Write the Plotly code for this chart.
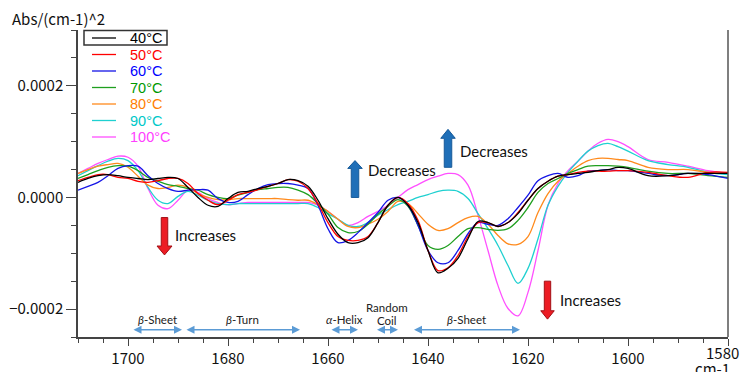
import plotly.graph_objects as go

# ---------------- data ----------------
# wavenumber axis, cm-1
wavenumber = [1710, 1708, 1706, 1704, 1702, 1700, 1698, 1696, 1694, 1692,
              1690, 1688, 1686, 1684, 1682, 1680, 1678, 1676, 1674, 1672,
              1670, 1668, 1666, 1664, 1662, 1660, 1658, 1656, 1654, 1652,
              1650, 1648, 1646, 1644, 1642, 1640, 1638, 1636, 1634, 1632,
              1630, 1628, 1626, 1624, 1622, 1620, 1618, 1616, 1614, 1612,
              1610, 1608, 1606, 1604, 1602, 1600, 1596, 1592, 1588, 1584, 1580]

# second-derivative absorbance, in units of 1e-6 Abs/(cm-1)^2
abs_40c = [27, 34, 39, 41, 39, 36, 34, 32, 34, 36,
           34, 18, 0, -14, -16, -2, 9, 11, 16, 20,
           25, 32, 30, 20, -5, -38, -66, -81, -81, -72,
           -45, -14, 0, -14, -45, -95, -135, -127, -109, -74,
           -43, -45, -52, -45, -29, -5, 16, 29, 38, 41,
           43, 45, 48, 50, 54, 52, 39, 39, 43, 43, 43]
abs_50c = [30, 36, 41, 41, 36, 34, 29, 27, 30, 34,
           34, 25, 7, -5, -13, -5, 5, 9, 14, 20,
           25, 32, 29, 16, -11, -45, -70, -77, -77, -70,
           -45, -14, 0, -11, -41, -95, -131, -126, -104, -70,
           -45, -45, -52, -45, -27, -5, 16, 29, 38, 41,
           45, 47, 47, 47, 48, 48, 45, 39, 36, 45, 45]
abs_60c = [13, 20, 27, 39, 52, 57, 56, 39, 25, 16,
           11, 13, 14, 13, -2, -9, -7, 5, 16, 23,
           25, 25, 22, 16, -14, -56, -81, -77, -63, -45,
           -27, -5, 0, -14, -50, -95, -117, -117, -95, -65,
           -45, -48, -50, -38, -18, 4, 30, 39, 43, 36,
           39, 47, 48, 50, 48, 48, 43, 39, 43, 41, 34]
abs_70c = [34, 41, 48, 54, 57, 56, 48, 36, 29, 23,
           20, 16, 13, 5, 0, -2, 4, 9, 14, 16,
           18, 18, 13, 5, -11, -30, -54, -63, -61, -48,
           -30, -16, -4, -16, -50, -86, -93, -86, -70, -56,
           -54, -57, -59, -56, -41, -18, 9, 25, 34, 43,
           50, 56, 57, 57, 56, 54, 47, 43, 43, 39, 36]
abs_80c = [43, 50, 56, 59, 61, 54, 38, 22, 16, 18,
           22, 18, 7, 0, -4, -4, -2, -2, -2, -2,
           -2, -4, -5, -5, -13, -25, -39, -52, -54, -48,
           -39, -25, -7, -11, -29, -48, -59, -56, -45, -36,
           -34, -48, -68, -83, -84, -70, -27, 7, 29, 43,
           56, 66, 70, 70, 68, 66, 54, 50, 50, 45, 43]
abs_90c = [39, 48, 57, 65, 70, 66, 48, 18, -5, -11,
           2, 11, 4, -5, -11, -13, -11, -11, -11, -11,
           -11, -11, -11, -11, -18, -29, -39, -50, -52, -45,
           -32, -22, -13, -7, 0, 5, 11, 13, 11, -2,
           -29, -56, -86, -122, -154, -127, -74, -14, 20, 45,
           65, 83, 93, 97, 91, 83, 66, 59, 54, 45, 41]
abs_100c = [43, 52, 61, 68, 74, 72, 56, 16, -14, -20,
            -5, 13, 9, -2, -9, -13, -11, -9, -9, -9,
            -9, -9, -9, -9, -14, -25, -39, -50, -45, -34,
            -25, -14, 0, 14, 23, 32, 38, 43, 41, 22,
            -32, -95, -158, -199, -212, -170, -95, -14, 25, 48,
            65, 83, 97, 104, 100, 91, 68, 63, 56, 48, 43]

series_labels = ["40°C", "50°C", "60°C", "70°C", "80°C", "90°C", "100°C"]
series_values = [abs_40c, abs_50c, abs_60c, abs_70c, abs_80c, abs_90c, abs_100c]

# secondary-structure bands (label, from, to) in cm-1
band_labels = ["<i>β</i>-Sheet", "<i>β</i>-Turn", "<i>α</i>-Helix", "Random<br>Coil", "<i>β</i>-Sheet"]
band_from = [1699.2, 1688.6, 1659.6, 1650.5, 1643.1]
band_to = [1689.2, 1665.6, 1654.0, 1646.0, 1621.6]

# ---------------- styling ----------------
colors = ["#000000", "#ff0000", "#1414e6", "#1f9f1f", "#ff8a1c", "#1fd0d0", "#ff50ff"]
text_colors = ["#000000", "#ff0000", "#0000ff", "#009900", "#ff7f00", "#00c8c8", "#ff40ff"]
W, H = 740, 372
ML, MR, MT, MB = 78, 12, 30, 35
PW, PH = W - ML - MR, H - MT - MB
TICKFONT = dict(family="Noto Sans CJK JP", size=15, color="#111111")
LEGFONT = "Liberation Sans"
LABFONT = "Lato"


def px_x(px):
    return (px - ML) / PW


def px_y(py):
    return (H - MB - py) / PH


fig = go.Figure()
for i in reversed(range(len(series_values))):
    fig.add_trace(go.Scatter(
        x=wavenumber, y=[v * 1e-6 for v in series_values[i]], mode="lines",
        name=series_labels[i], showlegend=False,
        line=dict(color=colors[i], width=1.3, shape="spline", smoothing=1.0),
    ))

shapes = []
annotations = []

# manual legend (text coloured like the lines)
for i, lab in enumerate(series_labels):
    py = 38 + 16.5 * i
    shapes.append(dict(type="line", xref="paper", yref="paper",
                       x0=px_x(92), x1=px_x(116), y0=px_y(py), y1=px_y(py),
                       line=dict(color=colors[i], width=1.3)))
    annotations.append(dict(xref="paper", yref="paper", x=px_x(128), y=px_y(py),
                            xanchor="left", yanchor="middle", showarrow=False,
                            text=lab, font=dict(family=LEGFONT, size=14.5,
                                                color=text_colors[i])))
# selection box around the first legend entry
shapes.append(dict(type="rect", xref="paper", yref="paper",
                   x0=px_x(84), x1=px_x(167), y0=px_y(45), y1=px_y(30.5),
                   line=dict(color="#333333", width=1.5)))

# right frame line
shapes.append(dict(type="line", xref="paper", yref="paper", x0=1, x1=1, y0=0, y1=1,
                   line=dict(color="#555555", width=1.5)))


def block_arrow(xc, y_tail, y_base, y_tip, shaft_hw, head_hw, fill, edge):
    pts = [(xc - shaft_hw, y_tail), (xc + shaft_hw, y_tail), (xc + shaft_hw, y_base),
           (xc + head_hw, y_base), (xc, y_tip), (xc - head_hw, y_base),
           (xc - shaft_hw, y_base)]
    path = "M " + " L ".join(f"{x:.3f},{y:.9f}" for x, y in pts) + " Z"
    return dict(type="path", xref="x", yref="y", path=path, fillcolor=fill,
                line=dict(color=edge, width=1), layer="above")


RED, RED_E = "#ec1c24", "#a30f15"
BLUE, BLUE_E = "#1f6fb8", "#175a99"
shapes.append(block_arrow(1692.7, -3.6e-5, -8.7e-5, -1.03e-4, 0.65, 1.5, RED, RED_E))
shapes.append(block_arrow(1616.1, -1.50e-4, -2.03e-4, -2.18e-4, 0.64, 1.35, RED, RED_E))
shapes.append(block_arrow(1654.6, 0.0, 5.2e-5, 6.6e-5, 0.75, 1.45, BLUE, BLUE_E))
shapes.append(block_arrow(1636.0, 5.4e-5, 1.06e-4, 1.22e-4, 0.75, 1.45, BLUE, BLUE_E))

arrow_texts = [("Increases", 1691.0, -6.8e-5), ("Increases", 1614.0, -1.83e-4),
               ("Decreases", 1652.4, 5.0e-5), ("Decreases", 1634.0, 8.4e-5)]
for t, x, y in arrow_texts:
    annotations.append(dict(xref="x", yref="y", x=x, y=y, text=t, showarrow=False,
                            xanchor="left", yanchor="middle",
                            font=dict(family=LABFONT, size=15, color="#111111")))

# band arrows and labels
BAND_Y = -2.37e-4
for lab, a, b in zip(band_labels, band_from, band_to):
    annotations.append(dict(xref="x", yref="y", axref="x", ayref="y",
                            x=b, y=BAND_Y, ax=a, ay=BAND_Y, text="",
                            showarrow=True, arrowside="end+start", arrowhead=2,
                            arrowsize=1.0, arrowwidth=1.6, arrowcolor="#5b9bd5",
                            standoff=0, startstandoff=0))
    xc = (a + b) / 2
    if "Coil" in lab:
        for k, part in enumerate(lab.split("<br>")):
            annotations.append(dict(xref="x", yref="y", x=xc, y=[-1.97e-4, -2.21e-4][k],
                                    text=part, showarrow=False, xanchor="center",
                                    yanchor="middle",
                                    font=dict(family=LABFONT, size=11.5, color="#222222")))
    else:
        annotations.append(dict(xref="x", yref="y", x=xc, y=-2.19e-4, text=lab,
                                showarrow=False, xanchor="center", yanchor="middle",
                                font=dict(family=LABFONT, size=11.5, color="#222222")))

# axis titles
annotations.append(dict(xref="paper", yref="paper", x=px_x(10), y=px_y(19),
                        xanchor="left", yanchor="middle", showarrow=False,
                        text="Abs/(cm-1)^2", font=TICKFONT))
annotations.append(dict(xref="paper", yref="paper", x=px_x(712), y=px_y(368),
                        xanchor="center", yanchor="middle", showarrow=False,
                        text="cm-1", font=TICKFONT))
# last tick label (1580) sits at the right edge of the page
annotations.append(dict(xref="paper", yref="paper", x=px_x(722), y=px_y(352),
                        xanchor="center", yanchor="middle", showarrow=False,
                        text="1580", font=TICKFONT))

fig.update_layout(
    width=W, height=H,
    margin=dict(l=ML, r=MR, t=MT, b=MB, pad=0),
    paper_bgcolor="white", plot_bgcolor="white",
    showlegend=False,
    shapes=shapes, annotations=annotations,
    xaxis=dict(range=[1710, 1580], tick0=1700, dtick=20, ticks="outside", ticklen=7,
               tickwidth=1, tickcolor="#444444", showline=True, linecolor="#444444",
               linewidth=1.5, showgrid=False, zeroline=False, tickfont=TICKFONT,
               automargin=False, ticklabeloverflow="hide past domain",
               minor=dict(dtick=5, ticks="outside", ticklen=4, tickcolor="#444444",
                          showgrid=False)),
    yaxis=dict(range=[-0.00025, 0.0003], tick0=0, dtick=0.0002, tickformat=".4f",
               ticks="outside", ticklen=10, tickwidth=1, tickcolor="#444444",
               showline=True, linecolor="#444444", linewidth=1.5, showgrid=False,
               zeroline=False, tickfont=TICKFONT, automargin=False,
               minor=dict(dtick=0.00005, ticks="outside", ticklen=5,
                          tickcolor="#444444", showgrid=False)),
)

fig.write_html("out.html", config={"displayModeBar": False},
               post_script="document.body.style.margin='0';document.body.style.padding='0';")
